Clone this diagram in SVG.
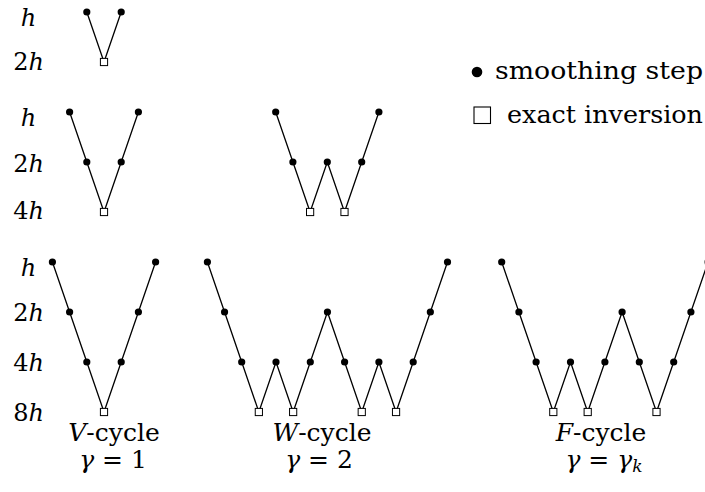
<svg xmlns="http://www.w3.org/2000/svg" width="705" height="492" viewBox="0 0 705 492" font-family="DejaVu Serif">
<style>
text{font-size:24px;fill:#000}
.lab{text-anchor:middle}
.cap{text-anchor:middle;font-size:25px}
.leg{font-size:24.5px}
.i{font-style:italic}
.ln{fill:none;stroke:#000;stroke-width:1.3;stroke-linejoin:miter}
.dot{fill:#000}
.sq{fill:#fff;stroke:#000;stroke-width:1}
</style>
<defs>
<circle id="d" r="3.6" class="dot"/>
<rect id="s" x="-3.6" y="-3.6" width="7.2" height="7.2" class="sq"/>
</defs>
<rect width="705" height="492" fill="#fff"/>
<g id="labels" font-family="DejaVu Serif">
<text class="lab" x="28.5" y="26"><tspan class="i">h</tspan></text>
<text class="lab" x="28.5" y="70">2<tspan class="i">h</tspan></text>
<text class="lab" x="28.5" y="126"><tspan class="i">h</tspan></text>
<text class="lab" x="28.5" y="172">2<tspan class="i">h</tspan></text>
<text class="lab" x="28.5" y="219">4<tspan class="i">h</tspan></text>
<text class="lab" x="28.5" y="276"><tspan class="i">h</tspan></text>
<text class="lab" x="28.5" y="321">2<tspan class="i">h</tspan></text>
<text class="lab" x="28.5" y="371">4<tspan class="i">h</tspan></text>
<text class="lab" x="28.5" y="421">8<tspan class="i">h</tspan></text>
</g>
<g id="connectors">
<polyline class="ln" points="86.8,12 104,62 121.2,12"/>
<polyline class="ln" points="69.6,112 86.8,162 104,212 121.2,162 138.4,112"/>
<polyline class="ln" points="275.7,112 292.9,162 310.1,212 327.3,162 344.5,212 361.7,162 378.9,112"/>
<polyline class="ln" points="52.4,262 69.6,312 86.8,362 104,412 121.2,362 138.4,312 155.6,262"/>
<polyline class="ln" points="207.4,262 224.55,312 241.7,362 258.85,412 276,362 293.15,412 310.3,362 327.45,312 344.6,362 361.75,412 378.9,362 396.05,412 413.2,362 430.35,312 447.5,262"/>
<polyline class="ln" points="501.7,262 518.9,312 536.1,362 553.3,412 570.5,362 587.7,412 604.9,362 622.1,312 639.3,362 656.5,412 673.7,362 690.9,312 708.1,262"/>
</g>
<g id="v1">
<use href="#d" x="86.8" y="12"/><use href="#s" x="104" y="62"/><use href="#d" x="121.2" y="12"/>
</g>
<g id="v2">
<use href="#d" x="69.6" y="112"/><use href="#d" x="86.8" y="162"/><use href="#s" x="104" y="212"/><use href="#d" x="121.2" y="162"/><use href="#d" x="138.4" y="112"/>
</g>
<g id="w2">
<use href="#d" x="275.7" y="112"/><use href="#d" x="292.9" y="162"/><use href="#s" x="310.1" y="212"/><use href="#d" x="327.3" y="162"/><use href="#s" x="344.5" y="212"/><use href="#d" x="361.7" y="162"/><use href="#d" x="378.9" y="112"/>
</g>
<g id="v3">
<use href="#d" x="52.4" y="262"/><use href="#d" x="69.6" y="312"/><use href="#d" x="86.8" y="362"/><use href="#s" x="104" y="412"/><use href="#d" x="121.2" y="362"/><use href="#d" x="138.4" y="312"/><use href="#d" x="155.6" y="262"/>
</g>
<g id="w3">
<use href="#d" x="207.4" y="262"/><use href="#d" x="224.55" y="312"/><use href="#d" x="241.7" y="362"/><use href="#s" x="258.85" y="412"/><use href="#d" x="276" y="362"/><use href="#s" x="293.15" y="412"/><use href="#d" x="310.3" y="362"/><use href="#d" x="327.45" y="312"/><use href="#d" x="344.6" y="362"/><use href="#s" x="361.75" y="412"/><use href="#d" x="378.9" y="362"/><use href="#s" x="396.05" y="412"/><use href="#d" x="413.2" y="362"/><use href="#d" x="430.35" y="312"/><use href="#d" x="447.5" y="262"/>
</g>
<g id="f3">
<use href="#d" x="501.7" y="262"/><use href="#d" x="518.9" y="312"/><use href="#d" x="536.1" y="362"/><use href="#s" x="553.3" y="412"/><use href="#d" x="570.5" y="362"/><use href="#s" x="587.7" y="412"/><use href="#d" x="604.9" y="362"/><use href="#d" x="622.1" y="312"/><use href="#d" x="639.3" y="362"/><use href="#s" x="656.5" y="412"/><use href="#d" x="673.7" y="362"/><use href="#d" x="690.9" y="312"/><use href="#d" x="708.1" y="262"/>
</g>
<g id="captions" font-family="DejaVu Serif">
<text class="cap" x="114" y="441"><tspan class="i">V</tspan>-cycle</text>
<text class="cap" x="113" y="468"><tspan class="i">γ</tspan> = 1</text>
<text class="cap" x="322" y="441"><tspan class="i">W</tspan>-cycle</text>
<text class="cap" x="319" y="468"><tspan class="i">γ</tspan> = 2</text>
<text class="cap" x="601" y="441"><tspan class="i">F</tspan>-cycle</text>
<text class="cap" x="604" y="468"><tspan class="i">γ</tspan> = <tspan class="i">γ</tspan><tspan class="i" font-size="17" dy="4">k</tspan></text>
</g>
<g id="legend" font-family="DejaVu Serif">
<circle cx="477" cy="72" r="5.3" fill="#000"/>
<text class="leg" x="495" y="79" textLength="208" lengthAdjust="spacingAndGlyphs">smoothing step</text>
<rect x="474" y="107" width="16.5" height="16.5" fill="#fff" stroke="#000" stroke-width="1.1"/>
<text class="leg" x="507" y="123" textLength="196" lengthAdjust="spacingAndGlyphs">exact inversion</text>
</g>
</svg>
